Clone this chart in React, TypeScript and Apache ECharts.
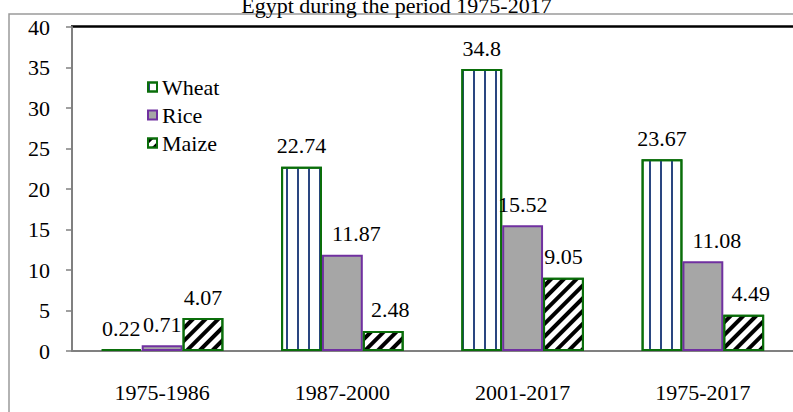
import React, { useEffect, useRef } from "react";
import * as echarts from "echarts";

const titleText = "Egypt during the period 1975-2017";
const categories = ["1975-1986", "1987-2000", "2001-2017", "1975-2017"];
const seriesNames = ["Wheat", "Rice", "Maize"];
const wheat = [0.22, 22.74, 34.8, 23.67];
const rice = [0.71, 11.87, 15.52, 11.08];
const maize = [4.07, 2.48, 9.05, 4.49];

const FONT = '"Liberation Serif", "Times New Roman", serif';
const GREEN = "#0a6e0a";
const PURPLE = "#7030a0";
const FS = 22;

export default function App() {
  const ref = useRef<HTMLDivElement>(null);
  useEffect(() => {
    if (!ref.current) return;
    const chart = echarts.init(ref.current, null, { renderer: "svg" });
    const label = {
      show: true,
      position: "top",
      distance: 10,
      fontSize: FS,
      fontFamily: FONT,
      color: "#000",
    };
    chart.setOption({
      animation: false,
      backgroundColor: "#fff",
      textStyle: { fontFamily: FONT },
      title: {
        text: titleText,
        left: "center",
        top: -11,
        textStyle: { fontSize: FS, fontWeight: "normal", fontFamily: FONT, color: "#000" },
      },
      legend: {
        orient: "vertical",
        left: 142,
        top: 71,
        itemWidth: 9,
        itemHeight: 9,
        itemGap: 6,
        icon: "rect",
        data: seriesNames,
        textStyle: { fontSize: FS, fontFamily: FONT, color: "#000", lineHeight: 22 },
      },
      grid: { left: 72, top: 27, width: 729, height: 324, containLabel: false },
      xAxis: {
        type: "category",
        data: categories,
        axisLine: { lineStyle: { color: "#808080", width: 2 } },
        axisTick: { length: 6, lineStyle: { color: "#808080", width: 1.5 } },
        axisLabel: { fontSize: FS, fontFamily: FONT, color: "#000", margin: 30 },
      },
      yAxis: {
        type: "value",
        min: 0,
        max: 40,
        interval: 5,
        splitLine: { show: false },
        axisLine: { show: true, lineStyle: { color: "#808080", width: 2 } },
        axisTick: { show: true, length: 6, lineStyle: { color: "#808080", width: 1.5 } },
        axisLabel: { fontSize: FS, fontFamily: FONT, color: "#000", margin: 22 },
      },
      graphic: [
        {
          type: "rect",
          shape: { x: 9, y: 14, width: 900, height: 500 },
          style: { fill: "none", stroke: "#9a9a9a", lineWidth: 1.5 },
          silent: true,
        },
        {
          type: "line",
          shape: { x1: 71, y1: 26.5, x2: 800, y2: 26.5 },
          style: { stroke: "#000", lineWidth: 2.5 },
          silent: true,
        },
      ],
      series: [
        {
          name: seriesNames[0],
          type: "bar",
          data: wheat,
          barGap: "0%",
          barCategoryGap: "32%",
          itemStyle: {
            color: "#ffffff",
            borderColor: GREEN,
            borderWidth: 2,
            decal: {
              symbol: "rect",
              color: "#2a4680",
              dashArrayX: [2, 8.5],
              dashArrayY: [1, 0],
              symbolSize: 1,
            },
          },
          label,
        },
        {
          name: seriesNames[1],
          type: "bar",
          data: rice.map((v, i) => ({
            value: v,
            label: { offset: [i === 1 || i === 3 ? 14 : 0, 0] },
          })),
          itemStyle: { color: "#a6a6a6", borderColor: PURPLE, borderWidth: 2 },
          label,
        },
        {
          name: seriesNames[2],
          type: "bar",
          data: maize.map((v, i) => ({
            value: v,
            label: { offset: [i === 1 || i === 3 ? 7 : 0, 0] },
          })),
          itemStyle: {
            color: "#ffffff",
            borderColor: GREEN,
            borderWidth: 2,
            decal: {
              symbol: "rect",
              color: "#000",
              dashArrayX: [1, 0],
              dashArrayY: [4, 5],
              symbolSize: 1,
              rotation: -Math.PI / 4,
            },
          },
          label,
        },
      ],
    });
    return () => chart.dispose();
  }, []);
  return (
    <div
      ref={ref}
      style={{ position: "fixed", left: 0, top: 0, width: 793, height: 412 }}
    />
  );
}
